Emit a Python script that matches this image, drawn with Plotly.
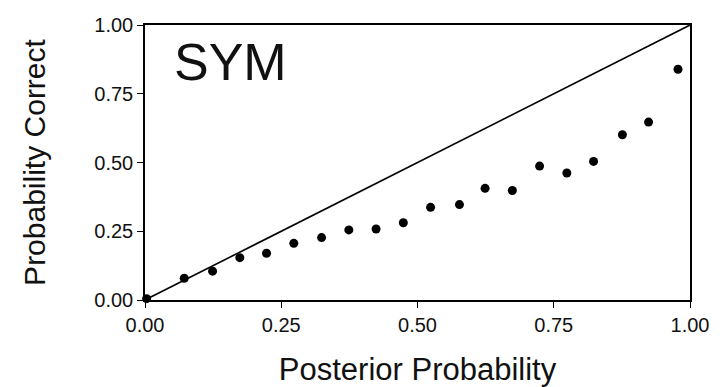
import plotly.graph_objects as go

post_prob = [0.003, 0.072, 0.124, 0.174, 0.223, 0.273, 0.324, 0.374, 0.424, 0.474,
             0.524, 0.577, 0.624, 0.674, 0.724, 0.774, 0.823, 0.876, 0.924, 0.978]
prob_correct = [0.005, 0.079, 0.105, 0.154, 0.170, 0.206, 0.227, 0.255, 0.258, 0.281,
                0.337, 0.347, 0.406, 0.398, 0.487, 0.462, 0.504, 0.601, 0.647, 0.839]
diag = [0, 1]
tick_vals = [0, 0.25, 0.5, 0.75, 1.0]
tick_text = ["0.00", "0.25", "0.50", "0.75", "1.00"]

fig = go.Figure()
fig.add_trace(go.Scatter(x=diag, y=diag, mode="lines",
                         line=dict(color="black", width=1.6), showlegend=False))
fig.add_trace(go.Scatter(x=post_prob, y=prob_correct, mode="markers",
                         marker=dict(color="black", size=9), showlegend=False,
                         cliponaxis=False))

font = "Liberation Sans, Arial, Helvetica, sans-serif"
axis_common = dict(range=[0, 1], tickvals=tick_vals, ticktext=tick_text,
                   showgrid=False, zeroline=False, showline=True, linecolor="black",
                   linewidth=1.5, ticks="outside", ticklen=6, tickwidth=1.3,
                   tickcolor="black", mirror=True, automargin=False,
                   tickfont=dict(family=font, size=20, color="#111"))

fig.update_xaxes(**axis_common,
                 title=dict(text="Posterior Probability", standoff=24,
                            font=dict(family=font, size=31, color="#111")))
fig.update_yaxes(**axis_common,
                 title=dict(text="Probability Correct", standoff=40,
                            font=dict(family=font, size=30, color="#111")))

fig.add_annotation(x=0.05, y=0.865, xref="x", yref="y", text="SYM",
                   showarrow=False, xanchor="left", yanchor="middle",
                   font=dict(family=font, size=52, color="#111"))

fig.update_layout(width=720, height=387, margin=dict(l=145, r=30, t=25, b=87),
                  plot_bgcolor="white", paper_bgcolor="white")

fig.write_html("out.html")
